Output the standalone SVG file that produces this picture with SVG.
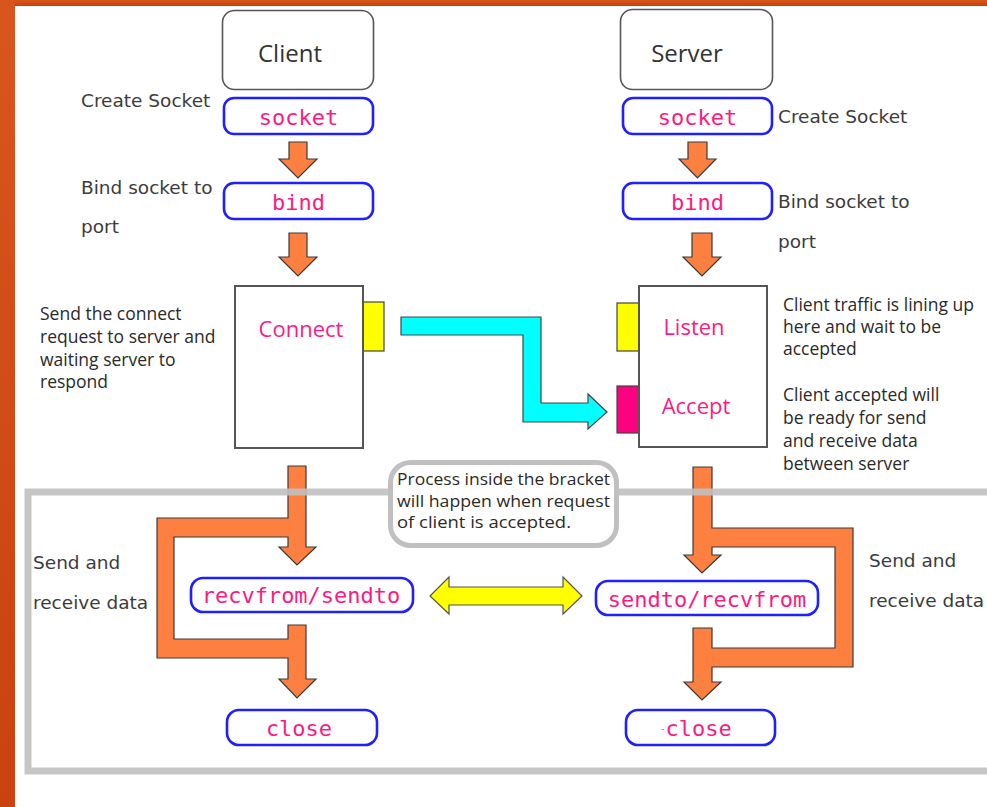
<svg xmlns="http://www.w3.org/2000/svg" width="987" height="807" viewBox="0 0 987 807">
<defs>
<linearGradient id="og" x1="0" y1="0" x2="0" y2="1">
<stop offset="0" stop-color="#d8561e"/><stop offset="1" stop-color="#c9420f"/>
</linearGradient>
<style>
.title{fill:#fff;stroke:#555;stroke-width:1.6}
.call{fill:#fff;stroke:#2020ff;stroke-width:2.6}
.mono{font-family:"DejaVu Sans Mono","Liberation Mono",monospace;font-size:22px;fill:#ff1a80;text-anchor:middle}
.lbl{font-family:"DejaVu Sans",sans-serif;font-size:18.5px;fill:#3c3c3c}
.note{font-family:"Open Sans","Noto Sans",sans-serif;font-size:17.5px;fill:#2a2a2a}
.bnote{font-family:"Open Sans","Noto Sans",sans-serif;font-size:15.5px;fill:#2a2a2a}
.head{font-family:"Open Sans","Noto Sans",sans-serif;font-size:24px;fill:#333;text-anchor:middle}
.pink{font-family:"Open Sans","Noto Sans",sans-serif;font-size:22px;fill:#ff1a80;text-anchor:middle}
.box{fill:#fff;stroke:#555;stroke-width:2}
.orange{fill:#fd8040;stroke:#3a3a3a;stroke-width:1.2;stroke-linejoin:miter}
</style>
</defs>
<rect x="0" y="0" width="987" height="807" fill="#fff"/>
<rect x="0" y="0" width="987" height="6" fill="url(#og)"/>
<rect x="0" y="0" width="15" height="807" fill="url(#og)"/>

<g id="connectors">
<path class="orange" d="M289,142H307V159H317L298,178L279,159H289Z"/>
<path class="orange" d="M289,233H307V257H317L298,276L279,257H289Z"/>
<path class="orange" d="M688,142H707V159H716L697.5,178L679,159H688Z"/>
<path class="orange" d="M692,233H712V257H721L702,276L683,257H692Z"/>
<path class="orange" d="M288,466H306V547H316L297,565L279,547H288V537H174V639H288V625H306V679H316L297,698L279,679H288V658H157V518H288Z"/>
<path class="orange" d="M693,467H712V528H853V667H712V682H721L702,700L684,682H693V628H712V648H835V547H712V555H721L702,573L684,555H693Z"/>
<path d="M401,317H541V403H588V394L607,412L588,429V422H523V335H401Z" fill="#00ffff" stroke="#444" stroke-width="1.2"/>
<path d="M430,596L449,577V587H563V577L582,596L563,614V605H449V614Z" fill="#ffff00" stroke="#555" stroke-width="1.2"/>
</g>

<g id="bracket">
<path d="M995,492H28V771H995" fill="none" stroke="#c0c0c0" stroke-width="7" opacity="0.9"/>
</g>

<g id="note-bracket">
<rect x="390.5" y="462.5" width="226" height="83" rx="20" fill="#fff" stroke="#c0c0c0" stroke-width="5"/>
<text class="bnote" x="397" y="485" textLength="213" lengthAdjust="spacingAndGlyphs">Process inside the bracket</text>
<text class="bnote" x="397" y="506.5" textLength="213" lengthAdjust="spacingAndGlyphs">will happen when request</text>
<text class="bnote" x="397" y="528" textLength="174" lengthAdjust="spacingAndGlyphs">of client is accepted.</text>
</g>

<g id="client">
<rect class="title" x="222.5" y="10.5" width="151" height="79" rx="12"/>
<text class="head" x="290" y="62">Client</text>
</g>
<g id="server">
<rect class="title" x="620.5" y="9.5" width="152" height="80" rx="12"/>
<text class="head" x="687" y="62">Server</text>
</g>

<g id="client-socket">
<rect class="call" x="224" y="98" width="149" height="36" rx="10"/>
<text class="mono" x="298.5" y="125">socket</text>
<text class="lbl" x="81" y="107">Create Socket</text>
</g>
<g id="server-socket">
<rect class="call" x="623" y="98" width="149" height="36" rx="10"/>
<text class="mono" x="697.5" y="125">socket</text>
<text class="lbl" x="778" y="123">Create Socket</text>
</g>
<g id="client-bind">
<rect class="call" x="224" y="183" width="149" height="36" rx="10"/>
<text class="mono" x="298.5" y="210">bind</text>
<text class="lbl" x="81" y="194">Bind socket to</text>
<text class="lbl" x="81" y="233">port</text>
</g>
<g id="server-bind">
<rect class="call" x="623" y="183" width="149" height="36" rx="10"/>
<text class="mono" x="697.5" y="210">bind</text>
<text class="lbl" x="778" y="208">Bind socket to</text>
<text class="lbl" x="778" y="248">port</text>
</g>

<g id="client-connect">
<rect x="363" y="302" width="21" height="49" fill="#ffff00" stroke="#444" stroke-width="1.2"/>
<rect class="box" x="235" y="286" width="128" height="162"/>
<text class="pink" x="301" y="337">Connect</text>
<text class="note" x="40" y="320">Send the connect</text>
<text class="note" x="40" y="343">request to server and</text>
<text class="note" x="40" y="366">waiting server to</text>
<text class="note" x="40" y="388">respond</text>
</g>

<g id="server-listen">
<rect x="617" y="303" width="22" height="48" fill="#ffff00" stroke="#444" stroke-width="1.2"/>
<rect x="617" y="386" width="22" height="47" fill="#ff0080" stroke="#444" stroke-width="1.2"/>
<rect class="box" x="639" y="286" width="128" height="161"/>
<text class="pink" x="694" y="335">Listen</text>
<text class="pink" x="696" y="414">Accept</text>
<text class="note" x="783" y="311">Client traffic is lining up</text>
<text class="note" x="783" y="333">here and wait to be</text>
<text class="note" x="783" y="355">accepted</text>
<text class="note" x="783" y="401">Client accepted will</text>
<text class="note" x="783" y="424">be ready for send</text>
<text class="note" x="783" y="447">and receive data</text>
<text class="note" x="783" y="470">between server</text>
</g>

<g id="client-recvfrom">
<rect class="call" x="191" y="578" width="222" height="34" rx="12"/>
<text class="mono" x="301" y="603">recvfrom/sendto</text>
<text class="lbl" x="33" y="569">Send and</text>
<text class="lbl" x="33" y="609">receive data</text>
</g>
<g id="server-sendto">
<rect class="call" x="596" y="581" width="222" height="34" rx="12"/>
<text class="mono" x="707" y="607">sendto/recvfrom</text>
<text class="lbl" x="869" y="567">Send and</text>
<text class="lbl" x="869" y="607">receive data</text>
</g>
<g id="client-close">
<rect class="call" x="227" y="710" width="150" height="35" rx="12"/>
<text class="mono" x="299" y="736">close</text>
</g>
<g id="server-close">
<rect class="call" x="626" y="710" width="149" height="35" rx="12"/>
<text class="mono" x="696" y="736"><tspan font-size="9" dy="-4">-</tspan><tspan dy="4">close</tspan></text>
</g>
</svg>
